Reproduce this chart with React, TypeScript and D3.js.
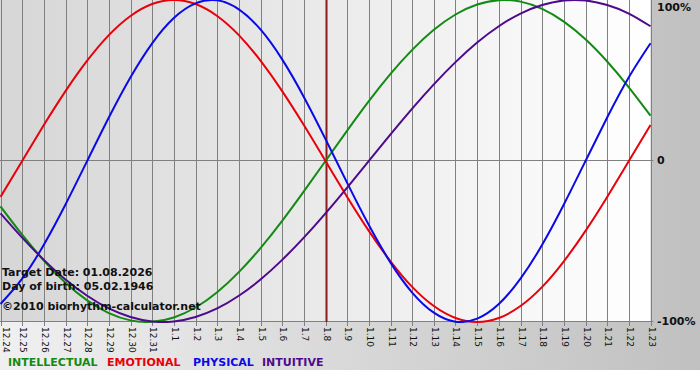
import React from "react";
import * as d3 from "d3";

const dates = [
  "12.24","12.25","12.26","12.27","12.28","12.29","12.30","12.31",
  "1.1","1.2","1.3","1.4","1.5","1.6","1.7","1.8","1.9","1.10","1.11",
  "1.12","1.13","1.14","1.15","1.16","1.17","1.18","1.19","1.20","1.21","1.22","1.23",
];

const intellectual = [
  -0.282,-0.458,-0.618,-0.756,-0.866,-0.945,-0.99,-0.999,-0.972,-0.91,-0.815,-0.69,-0.541,-0.372,-0.189,
  0,0.189,0.372,0.541,0.69,0.815,0.91,0.972,0.999,0.99,0.945,0.866,0.756,0.618,0.458,0.282,
];
const emotional = [
  -0.223,0,0.223,0.434,0.623,0.782,0.901,0.975,1.0,0.975,0.901,0.782,0.623,0.434,0.223,
  0,-0.223,-0.434,-0.623,-0.782,-0.901,-0.975,-1.0,-0.975,-0.901,-0.782,-0.623,-0.434,-0.223,0,0.223,
];
const physical = [
  -0.888,-0.731,-0.52,-0.27,0,0.27,0.52,0.731,0.888,0.979,0.998,0.942,0.817,0.631,0.398,
  0.136,-0.136,-0.398,-0.631,-0.817,-0.942,-0.998,-0.979,-0.888,-0.731,-0.52,-0.27,0,0.27,0.52,0.731,
];
const intuitive = [
  -0.325,-0.476,-0.614,-0.736,-0.837,-0.916,-0.969,-0.997,-0.997,-0.969,-0.916,-0.837,-0.736,-0.614,-0.476,
  -0.325,-0.165,0,0.165,0.325,0.476,0.614,0.736,0.837,0.916,0.969,0.997,0.997,0.969,0.916,0.837,
];

const targetIndex = 15;
const yTicks = [1, 0, -1];
const yTickLabels = ["100%", "0", "-100%"];

const series = [
  { name: "INTELLECTUAL", values: intellectual, color: "#138a13" },
  { name: "EMOTIONAL", values: emotional, color: "#e8000b" },
  { name: "PHYSICAL", values: physical, color: "#0a0ae6" },
  { name: "INTUITIVE", values: intuitive, color: "#4e0a8c" },
];

const infoLines = ["Target Date: 01.08.2026", "Day of birth: 05.02.1946", "\u00a92010 biorhythm-calculator.net"];

export default function App() {
  const W = 700, H = 380;
  const plotL = 0.5, plotR = 650.5, plotT = 0, plotB = 322;
  const x = d3.scaleLinear().domain([0, dates.length - 1]).range([plotL, plotR]);
  const y = d3.scaleLinear().domain([-1, 1]).range([plotB, plotT]);
  const line = d3
    .line<number>()
    .x((_, i) => x(i))
    .y((d) => y(d))
    .curve(d3.curveNatural);
  const font = "'DejaVu Sans', Verdana, sans-serif";
  const legendX = [8, 107, 193, 262];

  return (
    <div style={{ position: "absolute", left: 0, top: 0 }}>
      <svg width={W} height={H} style={{ display: "block" }}>
        <defs>
          <linearGradient id="outer" x1="0" y1="0" x2="1" y2="0">
            <stop offset="0" stopColor="#f0f0f0" />
            <stop offset="1" stopColor="#c0c0c0" />
          </linearGradient>
          <linearGradient id="plot" x1="0" y1="0" x2="1" y2="0">
            <stop offset="0" stopColor="#d6d6d6" />
            <stop offset="1" stopColor="#ffffff" />
          </linearGradient>
          <clipPath id="clip">
            <rect x={0} y={0} width={plotR + 1} height={plotB + 1} />
          </clipPath>
        </defs>
        <rect x={0} y={0} width={W} height={H} fill="#ffffff" />
        <rect x={0} y={0} width={W} height={370} fill="url(#outer)" />
        <rect x={0} y={plotT} width={plotR} height={plotB - plotT} fill="url(#plot)" />

        {dates.map((d, i) => (
          <line
            key={"g" + i}
            x1={Math.round(x(i)) + 0.5}
            x2={Math.round(x(i)) + 0.5}
            y1={plotT}
            y2={plotB + 4}
            stroke="#808080"
            strokeWidth={1}
          />
        ))}
        {yTicks.map((t, i) => (
          <line
            key={"h" + i}
            x1={0}
            x2={plotR + 3}
            y1={Math.round(y(t)) - 0.5}
            y2={Math.round(y(t)) - 0.5}
            stroke="#808080"
            strokeWidth={1}
            opacity={t === 1 ? 0 : 1}
          />
        ))}

        <line
          x1={Math.round(x(targetIndex)) + 0.5}
          x2={Math.round(x(targetIndex)) + 0.5}
          y1={plotT}
          y2={plotB}
          stroke="#8b1a1a"
          strokeWidth={2}
        />

        <g clipPath="url(#clip)">
          {series.map((s) => (
            <path key={s.name} d={line(s.values) || ""} fill="none" stroke={s.color} strokeWidth={2} />
          ))}
        </g>

        {yTicks.map((t, i) => (
          <text
            key={"yl" + i}
            x={657}
            y={t === 1 ? 8 : y(t)}
            dominantBaseline="middle"
            fontFamily={font}
            fontWeight="bold"
            fontSize={11}
            fill="#111"
          >
            {yTickLabels[i]}
          </text>
        ))}

        {dates.map((d, i) => (
          <text
            key={"xl" + i}
            transform={`translate(${Math.max(5, Math.round(x(i)) + 0.5)},${plotB + 5}) rotate(90)`}
            dominantBaseline="middle"
            fontFamily={font}
            fontSize={9}
            fill="#111"
          >
            {d}
          </text>
        ))}

        {infoLines.map((t, i) => (
          <text
            key={"info" + i}
            x={2}
            y={[276, 290, 310][i]}
            fontFamily={font}
            fontWeight="bold"
            fontSize={11}
            fill="#111"
          >
            {t}
          </text>
        ))}

        {series.map((s, i) => (
          <text
            key={"lg" + s.name}
            x={legendX[i]}
            y={366}
            fontFamily={font}
            fontWeight="bold"
            fontSize={11}
            fill={s.color}
          >
            {s.name}
          </text>
        ))}
      </svg>
    </div>
  );
}
